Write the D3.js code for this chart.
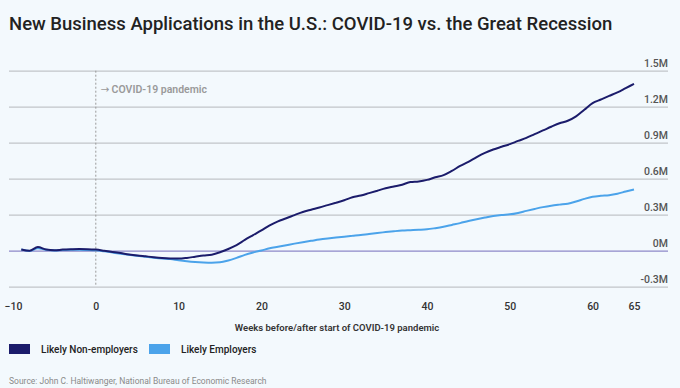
<!DOCTYPE html>
<html>
<head>
<meta charset="utf-8">
<script src="https://cdn.jsdelivr.net/npm/d3@7"></script>
<style>
  html, body { margin: 0; padding: 0; background: #f3f9fd; }
  svg { display: block; font-family: Roboto, "Noto Sans", sans-serif; }
</style>
</head>
<body>
<div class="chart-container"></div>
<script>
// weeks before/after the start of the pandemic
const weeks = d3.range(-9, 66);

// new applications vs. baseline, millions
const nonEmployers = [
  0.01, 0.0, 0.03, 0.01, 0.004, 0.009, 0.012, 0.014, 0.013,
  0.009, 0.0, -0.01, -0.02, -0.031, -0.04, -0.047, -0.054, -0.06, -0.064,
  -0.066, -0.06, -0.05, -0.04, -0.033, -0.013, 0.014, 0.047, 0.09, 0.13,
  0.17, 0.212, 0.245, 0.27, 0.297, 0.323, 0.342, 0.36, 0.38, 0.40,
  0.42, 0.445, 0.46, 0.48, 0.50, 0.52, 0.535, 0.55, 0.572, 0.577,
  0.59, 0.612, 0.63, 0.665, 0.706, 0.74, 0.78, 0.815, 0.843, 0.866,
  0.888, 0.915, 0.94, 0.972, 1.002, 1.033, 1.062, 1.083, 1.12, 1.175,
  1.23, 1.26, 1.29, 1.32, 1.355, 1.39
];
const employers = [
  0.01, -0.002, 0.02, 0.008, 0.002, 0.005, 0.007, 0.008, 0.006,
  0.003, -0.005, -0.015, -0.025, -0.034, -0.042, -0.05, -0.058, -0.065, -0.07,
  -0.08, -0.088, -0.094, -0.098, -0.1, -0.097, -0.082, -0.06, -0.035, -0.015,
  0.002, 0.02, 0.033, 0.046, 0.059, 0.071, 0.082, 0.093, 0.102, 0.11,
  0.117, 0.124, 0.131, 0.14, 0.148, 0.155, 0.162, 0.168, 0.171, 0.174,
  0.178, 0.188, 0.2, 0.215, 0.23, 0.247, 0.262, 0.276, 0.289, 0.298,
  0.303, 0.315, 0.332, 0.348, 0.363, 0.375, 0.384, 0.392, 0.41, 0.432,
  0.45, 0.458, 0.463, 0.475, 0.493, 0.51
];

const xTicks = [-10, 0, 10, 20, 30, 40, 50, 60, 65];
const yTicks = [-0.3, 0, 0.3, 0.6, 0.9, 1.2, 1.5];
const yTickLabels = ['-0.3M', '0M', '0.3M', '0.6M', '0.9M', '1.2M', '1.5M'];

const series = [
  {name: 'Likely Non-employers', values: nonEmployers, color: '#1b1c6b'},
  {name: 'Likely Employers', values: employers, color: '#4ba3ea'}
];

const width = 680;
const height = 388;

const svg = d3.select('.chart-container')
  .append('svg')
  .attr('width', width)
  .attr('height', height);

svg.append('rect')
  .attr('width', width)
  .attr('height', height)
  .attr('fill', '#f3f9fd');

const x = d3.scaleLinear().domain([-10, 65]).range([13, 634]);
const y = d3.scaleLinear().domain([-0.3, 1.5]).range([286.7, 70.7]);

// Title, squeezed to the width it has in the original
const title = svg.append('text')
  .attr('x', 9)
  .attr('y', 30)
  .attr('font-size', 18.5)
  .attr('font-weight', 500)
  .attr('fill', '#222')
  .text('New Business Applications in the U.S.: COVID-19 vs. the Great Recession');
if (title.node().getComputedTextLength() > 608) {
  title.attr('textLength', 608).attr('lengthAdjust', 'spacingAndGlyphs');
}

// Gridlines + right-hand labels
const yAxis = svg.append('g')
  .attr('transform', 'translate(668,0)')
  .call(d3.axisLeft(y)
    .tickValues(yTicks)
    .tickSize(659)
    .tickFormat((d, i) => yTickLabels[i]));
yAxis.select('.domain').remove();
yAxis.selectAll('.tick line')
  .attr('stroke', d => d === 0 ? '#8e88c8' : '#c2c5c9')
  .attr('stroke-width', 1.2);
yAxis.selectAll('.tick text')
  .attr('x', 0)
  .attr('dy', -4)
  .attr('text-anchor', 'end')
  .attr('font-family', 'Roboto, sans-serif')
  .attr('font-size', 10.5)
  .attr('font-weight', 500)
  .attr('fill', '#555');

// Bottom labels
const xAxis = svg.append('g')
  .attr('transform', 'translate(0,300)')
  .call(d3.axisBottom(x).tickValues(xTicks).tickSize(0));
xAxis.select('.domain').remove();
xAxis.selectAll('.tick text')
  .attr('font-family', 'Roboto, sans-serif')
  .attr('font-size', 10.5)
  .attr('font-weight', 500)
  .attr('fill', '#333');

svg.append('text')
  .attr('x', 337)
  .attr('y', 330.5)
  .attr('text-anchor', 'middle')
  .attr('font-size', 9.5)
  .attr('font-weight', 600)
  .attr('fill', '#333')
  .text('Weeks before/after start of COVID-19 pandemic');

// Pandemic marker
svg.append('line')
  .attr('x1', x(0)).attr('x2', x(0))
  .attr('y1', y(1.5)).attr('y2', y(-0.3))
  .attr('stroke', '#999')
  .attr('stroke-width', 1)
  .attr('stroke-dasharray', '2,2');

const note = svg.append('text')
  .attr('x', x(0) + 5)
  .attr('y', 93)
  .attr('font-size', 10.5)
  .attr('font-weight', 600)
  .attr('fill', '#9a9a9a');
note.append('tspan')
  .attr('font-family', '"DejaVu Sans", sans-serif')
  .attr('font-weight', 400)
  .text('\u2192');
note.append('tspan')
  .attr('dx', 2)
  .text('COVID-19 pandemic');

// Lines
const line = d3.line()
  .x((d, i) => x(weeks[i]))
  .y(d => y(d))
  .curve(d3.curveMonotoneX);

svg.append('g')
  .selectAll('path')
  .data(series.slice().reverse())
  .enter()
  .append('path')
  .attr('d', d => line(d.values))
  .attr('fill', 'none')
  .attr('stroke', d => d.color)
  .attr('stroke-width', 2)
  .attr('stroke-linejoin', 'round');

// Legend
const legend = svg.append('g')
  .selectAll('g')
  .data(series)
  .enter()
  .append('g')
  .attr('transform', (d, i) => `translate(${i === 0 ? 9 : 149},344)`);

legend.append('rect')
  .attr('width', 21)
  .attr('height', 10)
  .attr('fill', d => d.color);

legend.append('text')
  .attr('x', 32)
  .attr('y', 8.5)
  .attr('font-size', 10)
  .attr('font-weight', 500)
  .attr('fill', '#222')
  .text(d => d.name);

svg.append('text')
  .attr('x', 9)
  .attr('y', 384)
  .attr('font-size', 8.5)
  .attr('fill', '#8a8a8a')
  .text('Source: John C. Haltiwanger, National Bureau of Economic Research');
</script>
</body>
</html>
